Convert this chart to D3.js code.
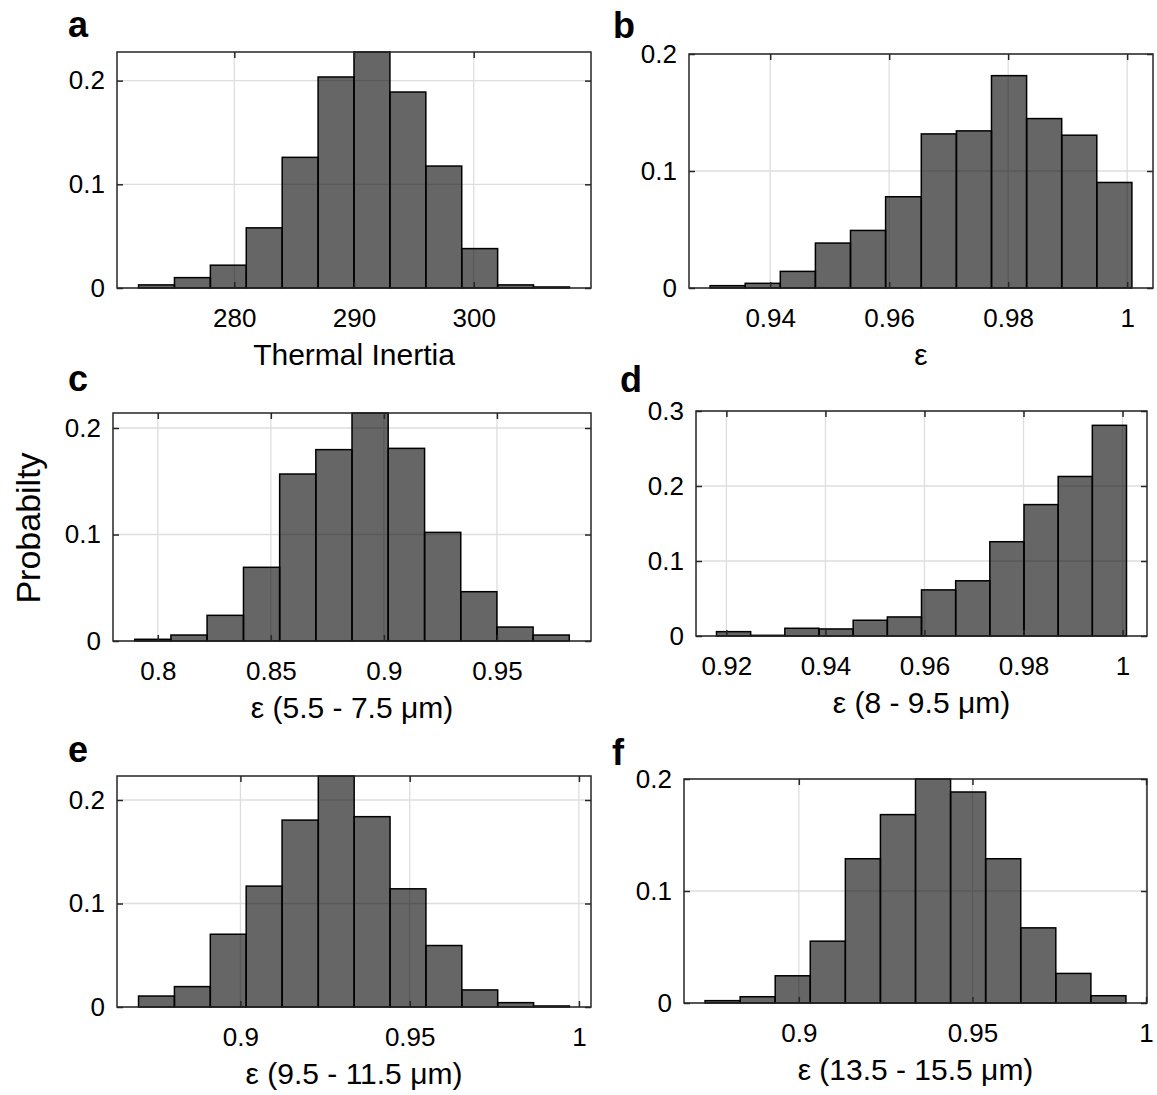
<!DOCTYPE html>
<html>
<head lang="en">
    <meta charset="UTF-8">
    <title></title>
    <script src="https://cdn.jsdelivr.net/npm/d3@7"></script>
    <style>
        body{margin:0;background:#fff;}
        text{font-family:"Liberation Sans",Arial,Helvetica,sans-serif;fill:#000;}
    </style>
</head>
<body>
<div id="tu"></div>
</body>
</html>
<script>
    // bin edges + probabilities
    var tiEdges=[272,275,278,281,284,287,290,293,296,299,302,305,308];
    var tiProb=[0.003,0.010,0.022,0.058,0.126,0.2035,0.2276,0.189,0.1176,0.038,0.003,0.001];

    var epsEdges=[0.9299,0.9358,0.9417,0.9476,0.9535,0.9594,0.9654,0.9713,0.9772,0.9831,0.9890,0.9949,1.0008];
    var epsProb=[0.002,0.004,0.0142,0.0384,0.0492,0.078,0.1317,0.1343,0.1815,0.1448,0.1306,0.0902];

    var eps55Edges=[0.7898,0.8058,0.8218,0.8379,0.8539,0.8699,0.8859,0.9019,0.9180,0.9340,0.9500,0.9660,0.9820];
    var eps55Prob=[0.0016,0.0056,0.0241,0.0692,0.1568,0.1797,0.2141,0.1809,0.102,0.0463,0.0131,0.0056];

    var eps8Edges=[0.9180,0.9249,0.9318,0.9387,0.9456,0.9525,0.9594,0.9663,0.9732,0.9801,0.9870,0.9939,1.0008];
    var eps8Prob=[0.0058,0.0009,0.0103,0.0094,0.021,0.0254,0.0615,0.0736,0.1257,0.1752,0.2127,0.2809];

    var eps95Edges=[0.8699,0.8805,0.8911,0.9017,0.9123,0.9230,0.9336,0.9442,0.9548,0.9654,0.9760,0.9866,0.9972];
    var eps95Prob=[0.0106,0.0197,0.0703,0.1168,0.1806,0.2232,0.1839,0.1142,0.0594,0.0165,0.0042,0.001];

    var eps135Edges=[0.8730,0.8831,0.8932,0.9033,0.9134,0.9235,0.9336,0.9437,0.9538,0.9639,0.9740,0.9841,0.9942];
    var eps135Prob=[0.0021,0.0056,0.0243,0.0552,0.1288,0.1682,0.2,0.1884,0.1288,0.0671,0.0264,0.0065];

    // ticks
    var tiTicks=[280,290,300], tiLabels=['280','290','300'];
    var epsTicks=[0.94,0.96,0.98,1], epsLabels=['0.94','0.96','0.98','1'];
    var eps55Ticks=[0.8,0.85,0.9,0.95], eps55Labels=['0.8','0.85','0.9','0.95'];
    var eps8Ticks=[0.92,0.94,0.96,0.98,1], eps8Labels=['0.92','0.94','0.96','0.98','1'];
    var eps95Ticks=[0.9,0.95,1], eps95Labels=['0.9','0.95','1'];
    var eps135Ticks=[0.9,0.95,1], eps135Labels=['0.9','0.95','1'];
    var yTicks3=[0,0.1,0.2], yLabels3=['0','0.1','0.2'];
    var yTicks4=[0,0.1,0.2,0.3], yLabels4=['0','0.1','0.2','0.3'];

    var xTitles=['Thermal Inertia','\u03b5','\u03b5 (5.5 - 7.5 \u03bcm)','\u03b5 (8 - 9.5 \u03bcm)',
        '\u03b5 (9.5 - 11.5 \u03bcm)','\u03b5 (13.5 - 15.5 \u03bcm)'];
    var letters=['a','b','c','d','e','f'];
    var yLabel='Probabilty';

    var panels=[
        {edges:tiEdges,prob:tiProb,xt:tiTicks,xl:tiLabels,yt:yTicks3,yl:yLabels3,ymax:null,
            box:[117,52,591,288],letter:[68,37]},
        {edges:epsEdges,prob:epsProb,xt:epsTicks,xl:epsLabels,yt:yTicks3,yl:yLabels3,ymax:0.2,
            box:[689,54,1153,288],letter:[613,38]},
        {edges:eps55Edges,prob:eps55Prob,xt:eps55Ticks,xl:eps55Labels,yt:yTicks3,yl:yLabels3,ymax:null,
            box:[113,413,591,641],letter:[68,391]},
        {edges:eps8Edges,prob:eps8Prob,xt:eps8Ticks,xl:eps8Labels,yt:yTicks4,yl:yLabels4,ymax:0.3,
            box:[696,411,1147,636],letter:[620,392]},
        {edges:eps95Edges,prob:eps95Prob,xt:eps95Ticks,xl:eps95Labels,yt:yTicks3,yl:yLabels3,ymax:null,
            box:[117,776,591,1007],letter:[68,762]},
        {edges:eps135Edges,prob:eps135Prob,xt:eps135Ticks,xl:eps135Labels,yt:yTicks3,yl:yLabels3,ymax:0.2,
            box:[684,779,1147,1003],letter:[612,765]}
    ];

    var _svg=d3.select('#tu')
            .append('svg')
            .attr('width',1157)
            .attr('height',1095);

    function drawHist(p,i){
        var w=p.box[2]-p.box[0], h=p.box[3]-p.box[1];
        var lo=p.edges[0], hi=p.edges[p.edges.length-1], pad=0.05*(hi-lo);
        var x=d3.scaleLinear().domain([lo-pad,hi+pad]).range([0,w]);
        var y=d3.scaleLinear().domain([0,p.ymax||d3.max(p.prob)]).range([h,0]);
        var bins=p.prob.map(function(v,k){return {x0:p.edges[k],x1:p.edges[k+1],v:v}});

        var g=_svg.append('g')
                .attr('transform','translate('+p.box[0]+','+p.box[1]+')');

        // grid
        g.selectAll('.gx').data(p.xt).enter().append('line')
                .attr('x1',function(d){return x(d)}).attr('x2',function(d){return x(d)})
                .attr('y1',0).attr('y2',h)
                .style('stroke','#dedede').style('stroke-width',1.3);
        g.selectAll('.gy').data(p.yt).enter().append('line')
                .attr('y1',function(d){return y(d)}).attr('y2',function(d){return y(d)})
                .attr('x1',0).attr('x2',w)
                .style('stroke','#dedede').style('stroke-width',1.3);

        // bars
        g.selectAll('.bar').data(bins).enter().append('rect')
                .attr('x',function(d){return x(d.x0)})
                .attr('y',function(d){return y(d.v)})
                .attr('width',function(d){return x(d.x1)-x(d.x0)})
                .attr('height',function(d){return h-y(d.v)})
                .style('fill','#000').style('fill-opacity',0.6)
                .style('stroke','#000').style('stroke-width',1.5);

        // axes, ticks pointing inward
        var ax=[
            d3.axisBottom(x).tickValues(p.xt).tickSize(-6).tickPadding(21)
                    .tickFormat(function(d,k){return p.xl[k]}),
            d3.axisTop(x).tickValues(p.xt).tickSize(-6).tickFormat(''),
            d3.axisLeft(y).tickValues(p.yt).tickSize(-6).tickPadding(12)
                    .tickFormat(function(d,k){return p.yl[k]}),
            d3.axisRight(y).tickValues(p.yt).tickSize(-6).tickFormat('')
        ];
        var pos=['translate(0,'+h+')','translate(0,0)','translate(0,0)','translate('+w+',0)'];
        ax.forEach(function(a,k){
            var ga=g.append('g').attr('transform',pos[k]).call(a);
            ga.select('.domain').remove();
            ga.selectAll('line').style('stroke','#262626').style('stroke-width',1.5);
            ga.selectAll('text').style('font-size','26px').style('fill','#000')
                    .style('font-family','"Liberation Sans",Arial,sans-serif');
        });

        g.append('rect')
                .attr('width',w).attr('height',h)
                .style('fill','none').style('stroke','#262626').style('stroke-width',1.5);

        g.append('text')
                .attr('x',w/2).attr('y',h+76.5)
                .attr('text-anchor','middle')
                .style('font-size','30px')
                .text(xTitles[i]);

        _svg.append('text')
                .attr('x',p.letter[0]).attr('y',p.letter[1])
                .style('font-size','36px').style('font-weight','bold')
                .text(letters[i]);
    }
    panels.forEach(drawHist);

    _svg.append('text')
            .attr('transform','translate(40,528) rotate(-90)')
            .attr('text-anchor','middle')
            .style('font-size','34px')
            .text(yLabel);
</script>
